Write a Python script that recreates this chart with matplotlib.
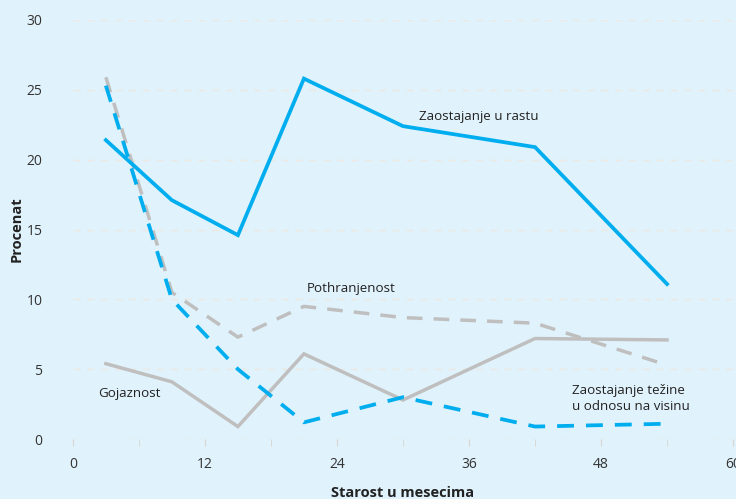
import matplotlib
matplotlib.use('Agg')
import matplotlib.pyplot as plt

months = [3, 9, 15, 21, 30, 42, 54]
stunting = [21.4, 17.1, 14.6, 25.8, 22.4, 20.9, 11.1]
wasting = [25.3, 10.0, 5.0, 1.2, 3.0, 0.9, 1.1]
underweight = [25.9, 10.5, 7.3, 9.5, 8.7, 8.3, 5.3]
obesity = [5.4, 4.1, 0.9, 6.1, 2.8, 7.2, 7.1]

blue = '#00aeef'
gray = '#c0bfbf'
bg = '#e0f2fb'

plt.rcParams['font.family'] = ['Open Sans', 'DejaVu Sans']

fig = plt.figure(figsize=(7.36, 4.99), dpi=100, facecolor=bg)
ax = fig.add_axes([0.099, 0.12, 0.897, 0.84], facecolor=bg)

ax.plot(months, obesity, color=gray, lw=2.5, solid_joinstyle='miter')
ax.plot(months, underweight, color=gray, lw=2.5, dashes=(4.5, 3.2))
ax.plot(months, wasting, color=blue, lw=2.7, dashes=(4.5, 3.2))
ax.plot(months, stunting, color=blue, lw=2.7, solid_joinstyle='miter')

ax.text(31.5, 23.1, 'Zaostajanje u rastu', fontsize=9.6, color='#222222', va='center')
ax.text(25.3, 10.8, 'Pothranjenost', fontsize=9.6, color='#222222', ha='center', va='center')
ax.text(2.3, 3.3, 'Gojaznost', fontsize=9.6, color='#222222', va='center')
ax.text(45.4, 2.9, 'Zaostajanje težine\nu odnosu na visinu', fontsize=9.6,
        color='#222222', va='center', linespacing=1.25)

ax.set_xlim(0, 60)
ax.set_ylim(0, 30)
ax.set_xticks(range(0, 61, 12))
ax.set_xticks(range(6, 60, 12), minor=True)
ax.set_yticks(range(0, 31, 5))
for s in ax.spines.values():
    s.set_visible(False)
ax.grid(axis='y', color='#ece8e4', lw=1, dashes=(5, 5))
ax.tick_params(axis='x', which='both', length=5, color='#d8d4d0', colors='#333333',
               labelsize=10, pad=8)
ax.tick_params(axis='x', which='both', color='#d8d4d0')
ax.tick_params(axis='y', length=0, colors='#333333', labelsize=10, pad=22)
ax.set_xlabel('Starost u mesecima', fontsize=10.5, fontweight='bold', color='#222222', labelpad=10)
ax.set_ylabel('Procenat', fontsize=10.5, fontweight='bold', color='#222222', labelpad=2)

fig.savefig('out.png', dpi=100, facecolor=bg)
